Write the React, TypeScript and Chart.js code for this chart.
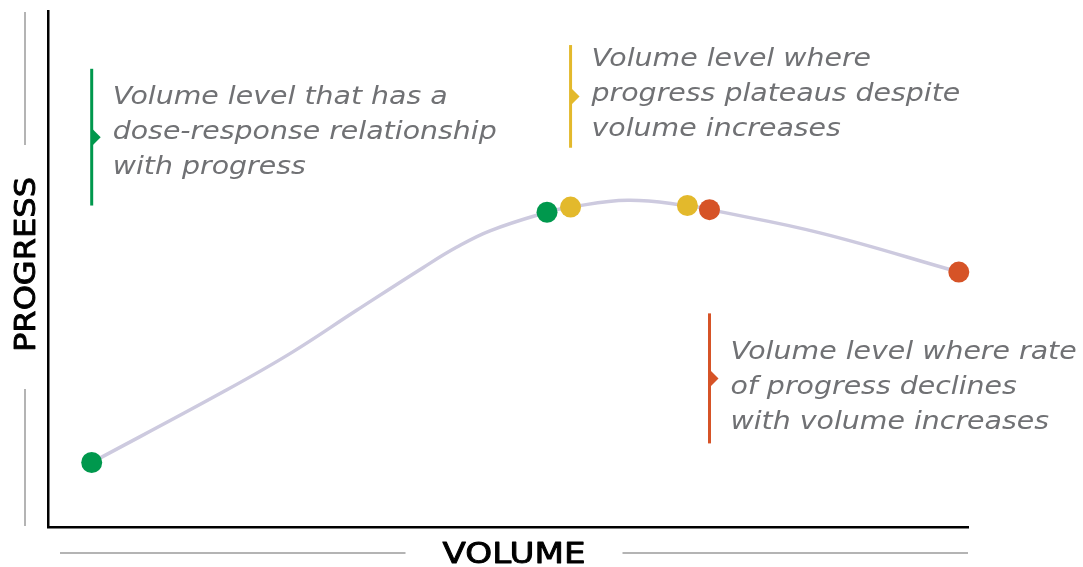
import { useEffect, useRef } from 'react';
import { Chart, registerables } from 'chart.js';

Chart.register(...registerables);

// ---- data (volume on x, progress on y, both 0–100 arbitrary units) ----
const volume = [4.75, 19.05, 26.3, 33.55, 40.8, 44.4, 48.04, 54.24, 56.8, 63.0, 69.5, 71.9, 83.9, 99.0];
const progress = [12.5, 26.2, 33.6, 42.0, 50.3, 54.2, 57.4, 61.0, 62.0, 63.3, 62.3, 61.5, 57.0, 49.4];
// stage of each marker ('' = plain curve point, no marker)
const markerStage = ['dose', '', '', '', '', '', '', 'dose', 'plateau', '', 'plateau', 'decline', '', 'decline'];

const stageNames = ['dose', 'plateau', 'decline'];
const stageColors = ['#00984d', '#e3b92c', '#d65327'];
const stageTexts = [
  ['Volume level that has a', 'dose-response relationship', 'with progress'],
  ['Volume level where', 'progress plateaus despite', 'volume increases'],
  ['Volume level where rate', 'of progress declines', 'with volume increases'],
];

const xTitle = 'VOLUME';
const yTitle = 'PROGRESS';

const colorOf = (stage: string) => {
  const i = stageNames.indexOf(stage);
  return i >= 0 ? stageColors[i] : 'rgba(0,0,0,0)';
};

// annotation bracket placement (progress units) – style/position only
const annotationLayout = [
  { top: 88.8, bottom: 62.3, textY: 76.4 },
  { top: 93.4, bottom: 73.5, textY: 83.9 },
  { top: 41.4, bottom: 16.2, textY: 27.0 },
];

function stretchedText(
  ctx: CanvasRenderingContext2D,
  text: string,
  x: number,
  y: number,
  sx: number,
  align: 'left' | 'center',
  bold = 0
) {
  const w = ctx.measureText(text).width * sx;
  ctx.save();
  ctx.translate(align === 'center' ? x - w / 2 : x, y);
  ctx.scale(sx, 1);
  ctx.textAlign = 'left';
  ctx.fillText(text, 0, 0);
  if (bold > 0) {
    ctx.lineWidth = bold;
    ctx.strokeStyle = ctx.fillStyle as string;
    ctx.lineJoin = 'round';
    ctx.strokeText(text, 0, 0);
  }
  ctx.restore();
}

const decorPlugin = {
  id: 'decor',
  afterDraw(chart: any) {
    const { ctx, chartArea, scales } = chart;
    const xs = scales.x;
    const ys = scales.y;
    ctx.save();

    // ---- axis titles with decorative rules ----
    ctx.strokeStyle = '#b4b4b4';
    ctx.lineWidth = 2;
    ctx.fillStyle = '#000';
    ctx.font = '29px "DejaVu Sans"';
    ctx.textBaseline = 'middle';

    // x title
    const lx0 = chartArea.left + 12;
    const lx1 = chartArea.right;
    const tcx = (lx0 + lx1) / 2;
    const ty = 553;
    const tw = 143;
    ctx.beginPath();
    ctx.moveTo(lx0, ty);
    ctx.lineTo(tcx - tw / 2 - 37, ty);
    ctx.moveTo(tcx + tw / 2 + 37, ty);
    ctx.lineTo(lx1, ty);
    ctx.stroke();
    stretchedText(ctx, xTitle, tcx, ty + 2, tw / ctx.measureText(xTitle).width, 'center', 0.9);

    // y title
    const yx = 25;
    ctx.beginPath();
    ctx.moveTo(yx, 12);
    ctx.lineTo(yx, 145);
    ctx.moveTo(yx, 389);
    ctx.lineTo(yx, 526);
    ctx.stroke();
    ctx.save();
    ctx.translate(yx + 2, 264.5);
    ctx.rotate(-Math.PI / 2);
    stretchedText(ctx, yTitle, 0, 0, 175 / ctx.measureText(yTitle).width, 'center', 0.9);
    ctx.restore();

    // ---- annotations ----
    ctx.font = 'italic 25px "DejaVu Sans"';
    const annSx = 384 / ctx.measureText(stageTexts[0][1]).width;
    stageNames.forEach((stage, i) => {
      const idx = markerStage.indexOf(stage);
      const lx = xs.getPixelForValue(volume[idx]);
      const lay = annotationLayout[i];
      const top = ys.getPixelForValue(lay.top);
      const bot = ys.getPixelForValue(lay.bottom);
      const mid = (top + bot) / 2;
      ctx.strokeStyle = stageColors[i];
      ctx.fillStyle = stageColors[i];
      ctx.lineWidth = 3;
      ctx.beginPath();
      ctx.moveTo(lx, top);
      ctx.lineTo(lx, bot);
      ctx.stroke();
      ctx.beginPath();
      ctx.moveTo(lx + 1, mid - 8);
      ctx.lineTo(lx + 9, mid);
      ctx.lineTo(lx + 1, mid + 8);
      ctx.closePath();
      ctx.fill();

      ctx.fillStyle = '#707174';
      ctx.textBaseline = 'middle';
      const cy = ys.getPixelForValue(lay.textY);
      stageTexts[i].forEach((t, k) => {
        stretchedText(ctx, t, lx + 21, cy + (k - 1) * 35, annSx, 'left');
      });
    });

    ctx.restore();
  },
};

export default function App() {
  const ref = useRef<HTMLCanvasElement | null>(null);

  useEffect(() => {
    if (!ref.current) return;
    const points = volume.map((v, i) => ({ x: v, y: progress[i] }));
    const chart = new Chart(ref.current, {
      type: 'line',
      data: {
        datasets: [
          {
            data: points,
            borderColor: '#cdcadf',
            borderWidth: 3.5,
            tension: 0.4,
            pointRadius: markerStage.map((s) => (s ? 10.5 : 0)),
            pointHoverRadius: markerStage.map((s) => (s ? 10.5 : 0)),
            pointBackgroundColor: markerStage.map(colorOf),
            pointBorderWidth: 0,
            clip: false as any,
          },
        ],
      },
      options: {
        animation: false,
        responsive: false,
        devicePixelRatio: 1,
        events: [],
        layout: { padding: { left: 48, top: 11, right: 115, bottom: 40 } },
        plugins: { legend: { display: false }, tooltip: { enabled: false } },
        scales: {
          x: {
            type: 'linear',
            min: 0,
            max: 100,
            ticks: { display: false },
            grid: { display: false, drawTicks: false },
            border: { display: true, color: '#000', width: 2.5 },
            afterFit: (s: any) => {
              s.height = 0;
            },
          },
          y: {
            type: 'linear',
            min: 0,
            max: 100,
            ticks: { display: false },
            grid: { display: false, drawTicks: false },
            border: { display: true, color: '#000', width: 2.5 },
            afterFit: (s: any) => {
              s.width = 0;
            },
          },
        },
      },
      plugins: [decorPlugin],
    });
    return () => chart.destroy();
  }, []);

  return (
    <div style={{ position: 'absolute', left: 0, top: 0, width: 1083, height: 567, background: '#fff' }}>
      <canvas ref={ref} width={1083} height={567} />
    </div>
  );
}
